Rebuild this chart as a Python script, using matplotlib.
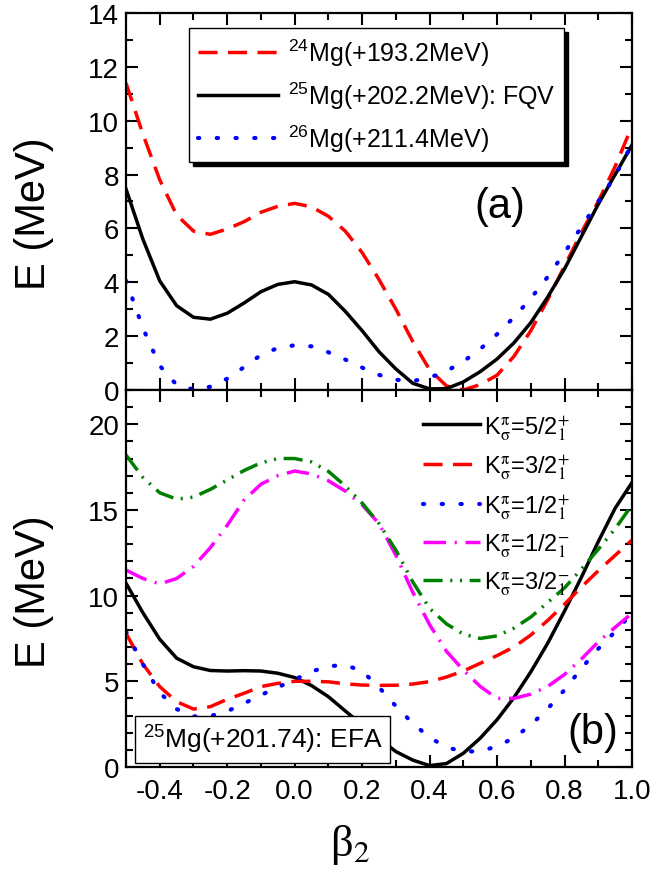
import matplotlib
matplotlib.use("Agg")
import matplotlib.pyplot as plt
from matplotlib.ticker import MultipleLocator

plt.rcParams["font.family"] = ["Liberation Sans", "DejaVu Sans"]
plt.rcParams["mathtext.fontset"] = "custom"
plt.rcParams["mathtext.rm"] = "Liberation Sans"
plt.rcParams["mathtext.it"] = "Liberation Sans:italic"
plt.rcParams["mathtext.bf"] = "Liberation Sans:bold"
plt.rcParams["axes.unicode_minus"] = False

# deformation grid shared by all curves
beta = [-0.50, -0.45, -0.40, -0.35, -0.30, -0.25, -0.20, -0.15, -0.10, -0.05,
        0.00, 0.05, 0.10, 0.15, 0.20, 0.25, 0.30, 0.35, 0.40, 0.45,
        0.50, 0.55, 0.60, 0.65, 0.70, 0.75, 0.80, 0.85, 0.90, 0.95, 1.00]

# (a) potential energy surfaces
mg24 = [11.4, 9.5, 7.8, 6.5, 5.9, 5.78, 5.98, 6.25, 6.6, 6.82,
        6.93, 6.8, 6.45, 5.9, 5.1, 4.1, 3.0, 1.8, 0.75, 0.15,
        0.0, 0.2, 0.55, 1.25, 2.2, 3.35, 4.6, 5.85, 7.0, 8.3, 9.8]
mg25_fqv = [7.46, 5.6, 4.05, 3.13, 2.7, 2.63, 2.85, 3.23, 3.65, 3.92,
            4.02, 3.9, 3.55, 2.92, 2.2, 1.42, 0.78, 0.25, 0.04, 0.05,
            0.3, 0.68, 1.15, 1.75, 2.5, 3.45, 4.5, 5.7, 6.9, 8.0, 9.1]
mg26 = [4.06, 2.3, 0.9, 0.19, 0.02, 0.12, 0.42, 0.85, 1.3, 1.56,
        1.66, 1.62, 1.4, 1.13, 0.83, 0.56, 0.38, 0.33, 0.46, 0.7,
        1.06, 1.52, 2.07, 2.7, 3.4, 4.2, 5.1, 6.05, 7.0, 7.95, 9.13]
labels_a = [r"$^{24}$Mg(+193.2MeV)", r"$^{25}$Mg(+202.2MeV): FQV",
            r"$^{26}$Mg(+211.4MeV)"]

# (b) K-projected energy curves of 25Mg
k52p = [10.72, 9.0, 7.45, 6.35, 5.85, 5.63, 5.6, 5.62, 5.6, 5.47,
        5.22, 4.75, 4.1, 3.27, 2.45, 1.65, 0.9, 0.4, 0.08, 0.2,
        0.8, 1.68, 2.76, 4.05, 5.55, 7.22, 9.1, 11.07, 13.15, 15.1, 16.6]
k32p = [7.8, 6.0, 4.69, 3.81, 3.38, 3.52, 3.95, 4.3, 4.69, 4.88,
        5.0, 5.0, 4.97, 4.85, 4.78, 4.76, 4.77, 4.84, 4.98, 5.25,
        5.6, 6.05, 6.5, 7.0, 7.7, 8.55, 9.5, 10.5, 11.45, 12.35, 13.24]
k12p = [7.9, 6.0, 4.34, 3.38, 2.95, 2.97, 3.25, 3.71, 4.2, 4.65,
        5.1, 5.57, 5.88, 5.95, 5.6, 4.65, 3.55, 2.55, 1.72, 1.15,
        0.9, 0.92, 1.2, 1.7, 2.45, 3.4, 4.5, 5.75, 6.9, 7.9, 8.97]
k12m = [11.49, 11.0, 10.68, 11.0, 11.7, 12.8, 14.1, 15.58, 16.5, 17.0,
        17.27, 17.1, 16.7, 16.1, 15.3, 14.2, 12.35, 10.2, 8.3, 6.75,
        5.65, 4.7, 4.0, 4.0, 4.25, 4.7, 5.4, 6.3, 7.3, 8.15, 8.97]
k32m = [18.2, 16.9, 16.0, 15.63, 15.75, 16.2, 16.75, 17.3, 17.75, 18.0,
        18.0, 17.8, 17.25, 16.4, 15.4, 14.2, 12.65, 10.8, 9.25, 8.35,
        7.75, 7.5, 7.65, 8.1, 8.75, 9.6, 10.45, 11.55, 12.7, 13.9, 15.29]
labels_b = [r"K$^{\mathrm{\pi}}_{\mathrm{\sigma}}$=5/2$^{+}_{1}$",
            r"K$^{\mathrm{\pi}}_{\mathrm{\sigma}}$=3/2$^{+}_{1}$",
            r"K$^{\mathrm{\pi}}_{\mathrm{\sigma}}$=1/2$^{+}_{1}$",
            r"K$^{\mathrm{\pi}}_{\mathrm{\sigma}}$=1/2$^{-}_{1}$",
            r"K$^{\mathrm{\pi}}_{\mathrm{\sigma}}$=3/2$^{-}_{1}$"]

lw = 2.5
dashed = (0, (5.5, 3))
dotted = (0, (0.3, 4.2))
dashdot = (0, (6.5, 2.5, 0.6, 2.5))
dashdotdot = (0, (5.5, 2.2, 0.6, 2.2, 0.6, 2.2))

fig = plt.figure(figsize=(6.55, 8.79), dpi=100)
ax1 = fig.add_axes([0.1924, 0.5552, 0.7725, 0.4289])
ax2 = fig.add_axes([0.1924, 0.1263, 0.7725, 0.4289])

def style(ax):
    for s in ax.spines.values():
        s.set_linewidth(1.6)
    ax.tick_params(which="both", direction="in", top=True, right=True,
                   width=1.5, labelsize=20)
    ax.tick_params(which="major", length=8.4)
    ax.tick_params(which="minor", length=4.8)
    ax.tick_params(axis="y", which="major", pad=5)
    ax.tick_params(axis="x", which="major", pad=8)
    ax.xaxis.set_major_locator(MultipleLocator(0.2))
    ax.xaxis.set_minor_locator(MultipleLocator(0.1))
    ax.set_xlim(-0.5, 1.0)

# panel (a)
ax1.plot(beta, mg24, color="#ff0000", lw=lw, ls=dashed, label=labels_a[0])
ax1.plot(beta, mg25_fqv, color="black", lw=lw, label=labels_a[1])
ax1.plot(beta, mg26, color="#0000ff", lw=3, ls=dotted,
         dash_capstyle="round", label=labels_a[2])
style(ax1)
ax1.set_ylim(0, 14)
ax1.yaxis.set_major_locator(MultipleLocator(2))
ax1.yaxis.set_minor_locator(MultipleLocator(1))
ax1.tick_params(labelbottom=False)
ax1.set_ylabel("E (MeV)", fontsize=30)
ax1.yaxis.set_label_coords(-0.142, 0.47)
leg1 = ax1.legend(loc="upper left", bbox_to_anchor=(0.1245, 0.960),
                  borderaxespad=0, fontsize=18, handlelength=3.2,
                  handletextpad=0.4, labelspacing=0.45, borderpad=0.35,
                  fancybox=False, edgecolor="black", framealpha=1,
                  shadow={"color": "black", "alpha": 1, "ox": 3, "oy": -3})
leg1.get_frame().set_linewidth(1.0)
ax1.text(0.739, 0.488, "(a)", transform=ax1.transAxes, fontsize=30,
         ha="center", va="center")

# panel (b)
ax2.plot(beta, k52p, color="black", lw=lw, label=labels_b[0])
ax2.plot(beta, k32p, color="#ff0000", lw=lw, ls=dashed, label=labels_b[1])
ax2.plot(beta, k12p, color="#0000ff", lw=3, ls=dotted,
         dash_capstyle="round", label=labels_b[2])
ax2.plot(beta, k12m, color="#ff00ff", lw=lw, ls=dashdot, label=labels_b[3])
ax2.plot(beta, k32m, color="#008000", lw=lw, ls=dashdotdot, label=labels_b[4])
style(ax2)
ax2.set_ylim(0, 22)
ax2.yaxis.set_major_locator(MultipleLocator(5))
ax2.yaxis.set_minor_locator(MultipleLocator(1))
ax2.set_ylabel("E (MeV)", fontsize=30)
ax2.yaxis.set_label_coords(-0.142, 0.467)
leg2 = ax2.legend(loc="upper left", bbox_to_anchor=(0.587, 0.94),
                  borderaxespad=0, borderpad=0, frameon=False, fontsize=17,
                  handlelength=2.4, handletextpad=0.2, labelspacing=0.45)
for t in leg2.get_texts():
    t.set_math_fontfamily("stix")
ax2.text(0.27, 0.074, r"$^{25}$Mg(+201.74): EFA", transform=ax2.transAxes,
         fontsize=19, ha="center", va="center", zorder=5,
         bbox=dict(boxstyle="square,pad=0.28", facecolor="white",
                   edgecolor="black", linewidth=1.0))
ax2.text(0.923, 0.093, "(b)", transform=ax2.transAxes, fontsize=30,
         ha="center", va="center")

fig.text(0.535, 0.039, r"β$_{2}$", fontsize=32, ha="center", va="center",
         family="Liberation Serif", math_fontfamily="stix")

fig.savefig("out.png", dpi=100)
